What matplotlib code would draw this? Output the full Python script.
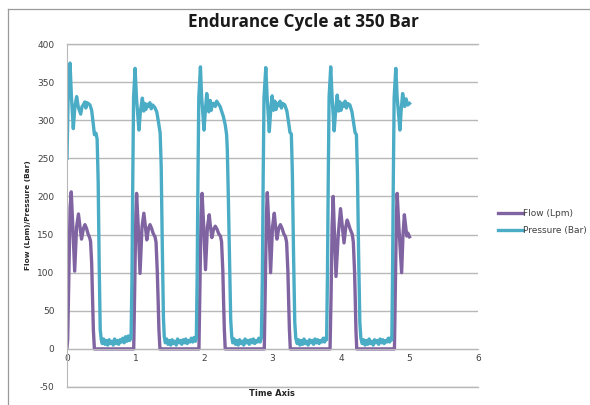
import matplotlib
matplotlib.use("Agg")
import matplotlib.pyplot as plt
from matplotlib.lines import Line2D

plt.rcParams["axes.unicode_minus"] = False

# pressure trace (Bar)
pressure_t = [
    0.000, 0.020, 0.044, 0.065, 0.092, 0.115, 0.141, 0.165, 0.185, 0.200, 0.220, 0.238, 0.260, 0.275, 0.290,
    0.310, 0.335, 0.360, 0.385, 0.400, 0.423, 0.440, 0.455, 0.470, 0.485, 0.500,
    0.515, 0.535, 0.555, 0.575, 0.595, 0.615, 0.635, 0.655, 0.675, 0.695, 0.715, 0.735, 0.755, 0.775, 0.795,
    0.815, 0.835, 0.855, 0.875, 0.895, 0.915, 0.935,
    0.948, 0.960, 0.972, 0.994, 1.015, 1.050, 1.072, 1.100, 1.120, 1.135, 1.150, 1.170, 1.190, 1.210, 1.230,
    1.250, 1.280, 1.310, 1.335, 1.360, 1.375, 1.392, 1.408, 1.420,
    1.435, 1.455, 1.475, 1.495, 1.515, 1.535, 1.555, 1.575, 1.595, 1.615, 1.635, 1.655, 1.675, 1.695, 1.715,
    1.735, 1.755, 1.775, 1.795, 1.815, 1.835, 1.855, 1.875, 1.888,
    1.900, 1.912, 1.924, 1.948, 1.966, 2.000, 2.022, 2.040, 2.070, 2.090, 2.105, 2.125, 2.148, 2.165, 2.185,
    2.206, 2.235, 2.282, 2.310, 2.330, 2.340, 2.355, 2.372, 2.390, 2.405,
    2.420, 2.440, 2.460, 2.480, 2.500, 2.520, 2.540, 2.560, 2.580, 2.600, 2.620, 2.640, 2.660, 2.680, 2.700,
    2.720, 2.740, 2.760, 2.780, 2.800, 2.820, 2.838,
    2.852, 2.864, 2.876, 2.902, 2.922, 2.953, 2.975, 2.995, 3.015, 3.035, 3.050, 3.070, 3.090, 3.110, 3.130,
    3.150, 3.180, 3.210, 3.235, 3.255, 3.275, 3.290, 3.307, 3.325, 3.340,
    3.360, 3.380, 3.400, 3.420, 3.440, 3.460, 3.480, 3.500, 3.520, 3.540, 3.560, 3.580, 3.600, 3.620, 3.640,
    3.660, 3.680, 3.700, 3.720, 3.740, 3.760, 3.780, 3.790,
    3.802, 3.814, 3.826, 3.850, 3.870, 3.900, 3.925, 3.945, 3.965, 3.985, 4.000, 4.020, 4.040, 4.060, 4.080,
    4.100, 4.130, 4.160, 4.185, 4.205, 4.225, 4.240, 4.257, 4.275, 4.290,
    4.310, 4.330, 4.350, 4.370, 4.390, 4.410, 4.430, 4.450, 4.470, 4.490, 4.510, 4.530, 4.550, 4.570, 4.590,
    4.610, 4.630, 4.650, 4.670, 4.690, 4.710, 4.730, 4.742,
    4.752, 4.764, 4.776, 4.800, 4.820, 4.860, 4.880, 4.900, 4.930, 4.950, 4.975, 5.000,
]
pressure_v = [
    250, 345, 375, 330, 289, 318, 331, 317, 312, 308, 318, 320, 324, 316, 323,
    322, 320, 313, 294, 281, 283, 275, 220, 110, 25, 12,
    7, 13, 6, 11, 5, 12, 7, 10, 5, 13, 7, 11, 6, 12, 9,
    14, 8, 16, 10, 17, 11, 14,
    90, 220, 330, 368, 328, 287, 312, 329, 312, 322, 314, 321, 318, 323, 315,
    320, 317, 311, 298, 283, 240, 130, 40, 16,
    8, 13, 6, 11, 5, 12, 7, 10, 5, 13, 8, 11, 6, 12, 8,
    13, 7, 11, 9, 14, 9, 15, 10, 14,
    95, 225, 330, 370, 330, 287, 315, 335, 311, 326, 313, 322, 322, 318, 325,
    322, 318, 305, 294, 281, 262, 200, 120, 38, 16,
    8, 13, 6, 11, 5, 12, 7, 10, 5, 13, 8, 11, 6, 12, 8,
    13, 7, 11, 9, 14, 9, 15,
    95, 225, 330, 369, 330, 285, 315, 332, 313, 325, 314, 322, 319, 325, 316,
    322, 320, 312, 297, 284, 282, 230, 125, 35, 14,
    7, 12, 5, 11, 6, 13, 7, 10, 5, 12, 8, 11, 6, 13, 8,
    12, 7, 11, 9, 14, 9, 15, 12,
    95, 225, 330, 370, 330, 286, 316, 333, 312, 324, 313, 322, 318, 325, 316,
    322, 320, 311, 296, 284, 281, 230, 125, 35, 14,
    7, 12, 5, 11, 6, 13, 7, 10, 5, 12, 8, 11, 6, 13, 8,
    12, 7, 11, 9, 14, 9, 15, 12,
    95, 225, 330, 368, 330, 287, 315, 335, 318, 328, 320, 322,
]

# flow trace (Lpm)
flow_t = [
    0.000, 0.010, 0.030, 0.045, 0.062, 0.085, 0.112, 0.140, 0.167, 0.190, 0.212, 0.240, 0.262, 0.285, 0.307,
    0.330, 0.344, 0.360, 0.372, 0.385, 0.400,
    0.974, 0.990, 1.005, 1.016, 1.040, 1.066, 1.095, 1.122, 1.145, 1.165, 1.190, 1.212, 1.235, 1.260, 1.285,
    1.300, 1.318, 1.330, 1.342, 1.357,
    1.926, 1.942, 1.957, 1.972, 1.996, 2.022, 2.050, 2.076, 2.095, 2.115, 2.140, 2.165, 2.190, 2.215, 2.240,
    2.256, 2.275, 2.285, 2.297, 2.310,
    2.880, 2.896, 2.911, 2.924, 2.948, 2.972, 3.000, 3.026, 3.045, 3.065, 3.090, 3.115, 3.140, 3.165, 3.190,
    3.206, 3.225, 3.235, 3.247, 3.260,
    3.840, 3.855, 3.870, 3.886, 3.905, 3.927, 3.960, 3.993, 4.020, 4.044, 4.070, 4.090, 4.110, 4.130, 4.165,
    4.180, 4.198, 4.208, 4.218, 4.230,
    4.780, 4.795, 4.808, 4.820, 4.845, 4.885, 4.905, 4.925, 4.945, 4.960, 4.975, 4.990, 5.000,
]
flow_v = [
    2, 12, 110, 185, 206, 160, 102, 160, 177, 160, 144, 158, 163, 158, 151,
    146, 141, 113, 70, 25, 0,
    0, 90, 175, 204, 160, 99, 160, 178, 160, 143, 158, 163, 158, 151, 147,
    140, 101, 65, 25, 0,
    0, 90, 175, 204, 160, 104, 160, 176, 160, 146, 157, 161, 157, 151, 148,
    141, 102, 65, 25, 0,
    0, 90, 175, 205, 160, 100, 160, 178, 160, 144, 158, 163, 158, 151, 147,
    140, 101, 65, 25, 0,
    0, 70, 160, 200, 150, 95, 150, 184, 160, 139, 160, 169, 164, 158, 150,
    140, 101, 65, 25, 0,
    0, 90, 170, 204, 160, 100, 150, 176, 160, 148, 152, 149, 147,
]

y_ticks = [-50, 0, 50, 100, 150, 200, 250, 300, 350, 400]
x_ticks = [0, 1, 2, 3, 4, 5, 6]

fig = plt.figure(figsize=(5.9, 4.05), dpi=100)
ax = fig.add_axes([67 / 590, 1 - 387 / 405, (478 - 67) / 590, (387 - 44) / 405])

grey = "#b8b8b8"
text_col = "#404040"

ax.plot(flow_t, flow_v, color="#8064A2", lw=2.4, label="Flow (Lpm)", solid_joinstyle="round")
ax.plot(pressure_t, pressure_v, color="#4BACC6", lw=2.4, label="Pressure (Bar)", solid_joinstyle="round")

ax.set_xlim(0, 6)
ax.set_ylim(-50, 400)
ax.set_yticks(y_ticks)
ax.set_xticks(x_ticks)
ax.yaxis.grid(True, color=grey, lw=1.0)
ax.axhline(-50, color=grey, lw=1.0, clip_on=False, zorder=0)
ax.axhline(400, color=grey, lw=1.0, clip_on=False, zorder=0)
ax.set_axisbelow(True)

for s in ["top", "right"]:
    ax.spines[s].set_visible(False)
ax.spines["left"].set_color(grey)
ax.spines["bottom"].set_color(grey)
ax.spines["bottom"].set_position(("data", 0))
ax.tick_params(axis="both", length=0, labelsize=6.5, labelcolor=text_col)
ax.tick_params(axis="y", pad=9)
ax.tick_params(axis="x", pad=4)

fig.text(0.514, 1 - 22 / 405, "Endurance Cycle at 350 Bar", ha="center", va="center",
         fontsize=12.3, fontweight="bold", family="Open Sans", color="#1a1a1a")
fig.text(272 / 590, 1 - 394 / 405, "Time Axis", ha="center", va="center",
         fontsize=6, fontweight="bold", color="#262626")
fig.text(28 / 590, 1 - 215 / 405, "Flow (Lpm)/Pressure (Bar)", ha="center", va="center",
         rotation=90, fontsize=5.3, fontweight="bold", color="#262626")

ax.legend(loc="center left", bbox_to_anchor=(490 / 590, 1 - 222 / 405), bbox_transform=fig.transFigure,
          frameon=False, fontsize=6.5, handlelength=2.7, handletextpad=0.1, labelspacing=0.9,
          labelcolor=text_col)

# outer chart border
fig.add_artist(Line2D([8 / 590, 1], [1 - 9 / 405, 1 - 9 / 405], color="#9a9a9a", lw=0.9))
fig.add_artist(Line2D([8 / 590, 8 / 590], [0, 1 - 9 / 405], color="#9a9a9a", lw=0.9))

fig.savefig("out.png", dpi=100)
